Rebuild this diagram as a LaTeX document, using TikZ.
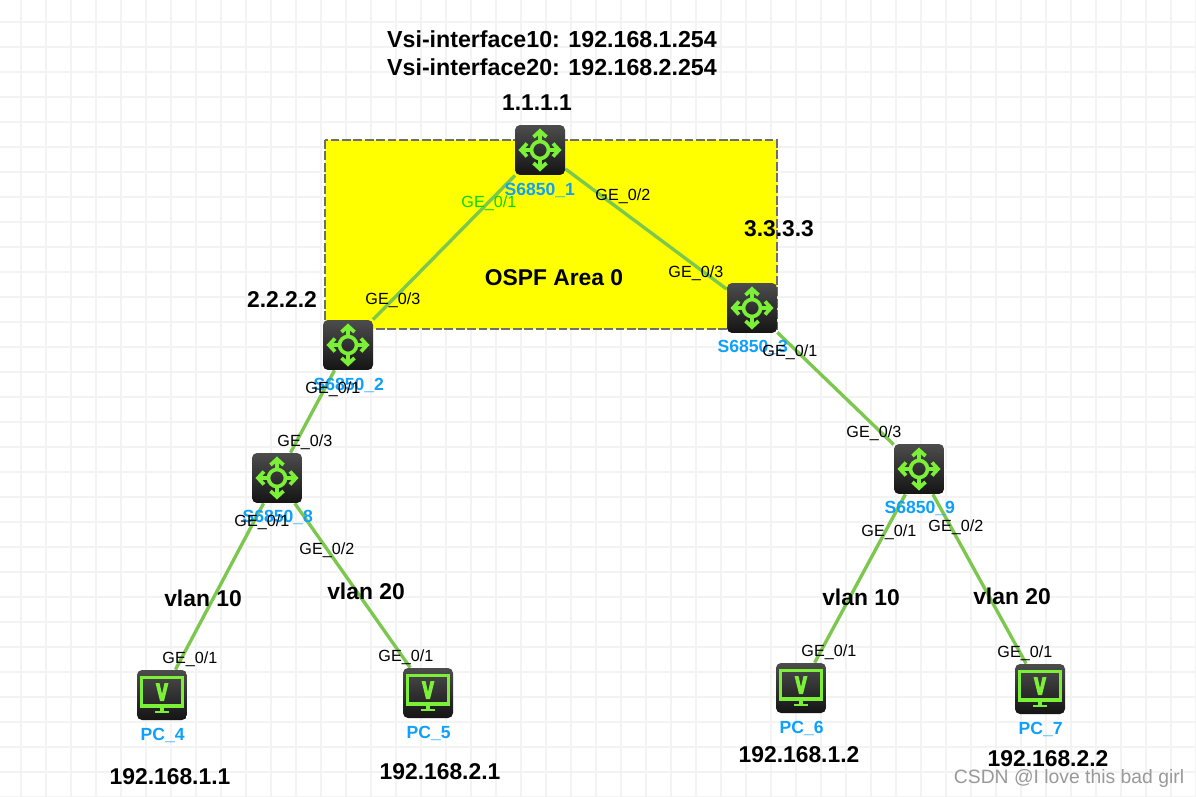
\documentclass[tikz,border=0pt]{standalone}
\usepackage{fontspec}
\setmainfont{Liberation Sans}
\usetikzlibrary{backgrounds}
\definecolor{linkgreen}{HTML}{7CC84E}
\definecolor{icongreen}{HTML}{7CF036}
\definecolor{devblue}{HTML}{0EA0FB}
\definecolor{gridgray}{HTML}{F3F3F3}
\definecolor{zonegray}{HTML}{6E6E6E}
\definecolor{zoneyellow}{HTML}{FFFF00}

\begin{document}
\begin{tikzpicture}
  [x=.02cm,y=-.02cm,
   device/.style={rectangle,rounded corners=.1cm,minimum size=1cm,inner sep=0pt,
     top color=black!70,bottom color=black!92},
   router/.style={device,path picture={
     \begin{scope}[shift={(path picture bounding box.center)},sharp corners,draw=icongreen,line width=2.1pt]
       \draw (0,0) circle (8.5);
       \draw (8,0) -- (18,0) (13,-6.5) -- (19,0) -- (13,6.5);
       \draw (-8,0) -- (-18,0) (-13,-6.5) -- (-19,0) -- (-13,6.5);
       \draw (0,8) -- (0,18) (-6.5,13) -- (0,19) -- (6.5,13);
       \draw (0,-8) -- (0,-18) (-6.5,-13) -- (0,-19) -- (6.5,-13);
     \end{scope}}},
   pc/.style={device,path picture={
     \begin{scope}[shift={(path picture bounding box.center)},sharp corners,draw=icongreen,fill=icongreen]
       \draw[line width=1.8pt] (-20.5,-17.5) rectangle (20.5,11);
       \fill (-6.5,-12) -- (-2.5,-12) -- (0,-1) -- (2.5,-12) -- (6.5,-12) -- (2,6) -- (-2,6) -- cycle;
       \fill (-2,11) rectangle (2,16);
       \fill (-7,15.5) rectangle (7,18);
     \end{scope}}},
   biglabel/.style={font=\bfseries\fontsize{13}{15}\selectfont,inner sep=0pt},
   vsilabel/.style={font=\bfseries\fontsize{13.2}{15}\selectfont,inner sep=0pt},
   devlabel/.style={font=\bfseries\fontsize{10}{12}\selectfont,text=devblue,inner sep=0pt,xshift=.4pt,yshift=-.5pt},
   portlabel/.style={font=\fontsize{9.2}{11}\selectfont,inner sep=0pt,xshift=.5pt,yshift=-.5pt}]
  \useasboundingbox (0,0) rectangle (1196,797);

  \begin{pgfonlayer}{background}
    \fill[white] (0,0) rectangle (1196,797);
    \foreach \x in {21,46,...,1196}
      \draw[gridgray,line width=1.3pt] (\x,0) -- (\x,797);
    \foreach \y in {22,47,...,797}
      \draw[gridgray,line width=1.3pt] (0,\y) -- (1196,\y);
    \draw[zonegray,fill=zoneyellow,line width=.9pt,dash pattern=on 5pt off 1.5pt] (325,140) rectangle (777,329);
  \end{pgfonlayer}

  % switches and hosts
  \node[router] (s1) at (540,150) {};
  \node[router] (s2) at (348,345) {};
  \node[router] (s3) at (752,308) {};
  \node[router] (s8) at (277,478) {};
  \node[router] (s9) at (919,469) {};
  \node[pc] (pc4) at (162,695) {};
  \node[pc] (pc5) at (428,693) {};
  \node[pc] (pc6) at (801,688) {};
  \node[pc] (pc7) at (1040,689) {};

  \begin{pgfonlayer}{background}
    \foreach \from/\to in {s1/s2,s1/s3,s2/s8,s3/s9,s8/pc4,s8/pc5,s9/pc6,s9/pc7}
      \draw[linkgreen,line width=1.9pt] (\from) -- (\to);
  \end{pgfonlayer}

  % device names
  \node[devlabel] (n1) at (539,190) {S6850\_1};
  \node[devlabel] (n2) at (348,385) {S6850\_2};
  \node[devlabel] (n3) at (752,347) {S6850\_3};
  \node[devlabel] (n8) at (277,517) {S6850\_8};
  \node[devlabel] (n9) at (919,508) {S6850\_9};
  \node[devlabel] (n4) at (162,735) {PC\_4};
  \node[devlabel] (n5) at (428,733) {PC\_5};
  \node[devlabel] (n6) at (801,728) {PC\_6};
  \node[devlabel] (n7) at (1040,729) {PC\_7};

  % ports
  \node[portlabel,text=green!85!black] (p1) at (488,202) {GE\_0/1};
  \node[portlabel] (p2) at (622,195) {GE\_0/2};
  \node[portlabel] (p3) at (695,272) {GE\_0/3};
  \node[portlabel] (p4) at (392,299) {GE\_0/3};
  \node[portlabel] (p5) at (332,388) {GE\_0/1};
  \node[portlabel] (p6) at (789,351) {GE\_0/1};
  \node[portlabel] (p7) at (873,432) {GE\_0/3};
  \node[portlabel] (p8) at (304,441) {GE\_0/3};
  \node[portlabel] (p9) at (261,521) {GE\_0/1};
  \node[portlabel] (p10) at (326,549) {GE\_0/2};
  \node[portlabel] (p11) at (888,531) {GE\_0/1};
  \node[portlabel] (p12) at (955,526) {GE\_0/2};
  \node[portlabel] (p13) at (189,658) {GE\_0/1};
  \node[portlabel] (p14) at (405,656) {GE\_0/1};
  \node[portlabel] (p15) at (828,651) {GE\_0/1};
  \node[portlabel] (p16) at (1024,652) {GE\_0/1};

  % addresses
  \node[vsilabel] (t1) at (552,39) {Vsi-interface10: 192.168.1.254};
  \node[vsilabel] (t2) at (552,67) {Vsi-interface20: 192.168.2.254};
  \node[biglabel] (t3) at (537,103) {1.1.1.1};
  \node[biglabel] (t4) at (282,300) {2.2.2.2};
  \node[biglabel] (t5) at (779,229) {3.3.3.3};
  \node[biglabel] (t6) at (554,278) {OSPF Area 0};
  \node[biglabel] (t7) at (203,598) {vlan 10};
  \node[biglabel] (t8) at (366,591) {vlan 20};
  \node[biglabel] (t9) at (861,597) {vlan 10};
  \node[biglabel] (t10) at (1012,596) {vlan 20};
  \node[biglabel] (t11) at (170,777) {192.168.1.1};
  \node[biglabel] (t12) at (440,772) {192.168.2.1};
  \node[biglabel] (t13) at (799,755) {192.168.1.2};
  \node[biglabel] (t14) at (1048,759) {192.168.2.2};
  \node[inner sep=0pt,text=black!40,font=\fontsize{11}{13}\selectfont] (mark) at (1069,778) {CSDN @I love this bad girl};
\end{tikzpicture}
\end{document}
